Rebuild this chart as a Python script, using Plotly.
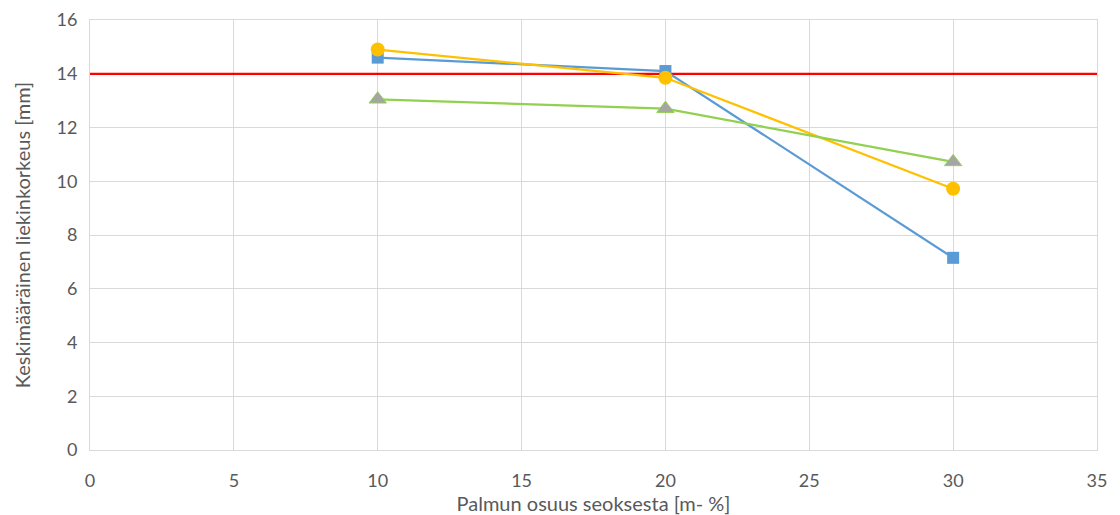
import plotly.graph_objects as go

x_vals = [10, 20, 30]
blue_vals = [14.6, 14.1, 7.15]
orange_vals = [14.9, 13.85, 9.72]
green_vals = [13.05, 12.7, 10.72]
limit_x = [0, 35]
limit_vals = [14, 14]

x_ticks = [0, 5, 10, 15, 20, 25, 30, 35]
y_ticks = [0, 2, 4, 6, 8, 10, 12, 14, 16]

FONT = "Lato"

fig = go.Figure()
fig.add_trace(go.Scatter(x=limit_x, y=limit_vals, mode="lines",
                         line=dict(color="#ff0000", width=2.25), showlegend=False))
fig.add_trace(go.Scatter(x=x_vals, y=blue_vals, mode="lines+markers",
                         line=dict(color="#5b9bd5", width=2.25),
                         marker=dict(symbol="square", size=12, color="#5b9bd5"),
                         showlegend=False))
fig.add_trace(go.Scatter(x=x_vals, y=orange_vals, mode="lines+markers",
                         line=dict(color="#ffc000", width=2.25),
                         marker=dict(symbol="circle", size=14, color="#ffc000"),
                         showlegend=False))
fig.add_trace(go.Scatter(x=x_vals, y=green_vals, mode="lines+markers",
                         line=dict(color="#92d050", width=2.25),
                         marker=dict(symbol="triangle-up", size=15, color="#a5a5a5",
                                     line=dict(color="#92d050", width=1)),
                         showlegend=False))

fig.update_layout(
    width=1120, height=515,
    margin=dict(l=90, r=23, t=20, b=65),
    paper_bgcolor="white", plot_bgcolor="white",
    font=dict(family=FONT, color="#595959", size=18),
    xaxis=dict(range=[0, 35], tickvals=x_ticks, showgrid=True, gridcolor="#d9d9d9",
               gridwidth=1, zeroline=False, showline=True, mirror=True, automargin=False,
               linecolor="#d9d9d9", ticks="outside", ticklen=14, tickcolor="rgba(0,0,0,0)",
               tickfont=dict(size=18, color="#595959"),
               title=dict(text="Palmun osuus seoksesta [m- %]",
                          font=dict(size=20, color="#595959"), standoff=2)),
    yaxis=dict(range=[0, 16], tickvals=y_ticks, showgrid=True, gridcolor="#d9d9d9",
               gridwidth=1, zeroline=False, showline=True, mirror=True, automargin=False,
               linecolor="#d9d9d9", ticks="outside", ticklen=8, tickcolor="rgba(0,0,0,0)",
               tickfont=dict(size=18, color="#595959"),
               title=dict(text="Keskimääräinen liekinkorkeus [mm]",
                          font=dict(size=20, color="#595959"), standoff=20)),
)

fig.write_html("out.html")
